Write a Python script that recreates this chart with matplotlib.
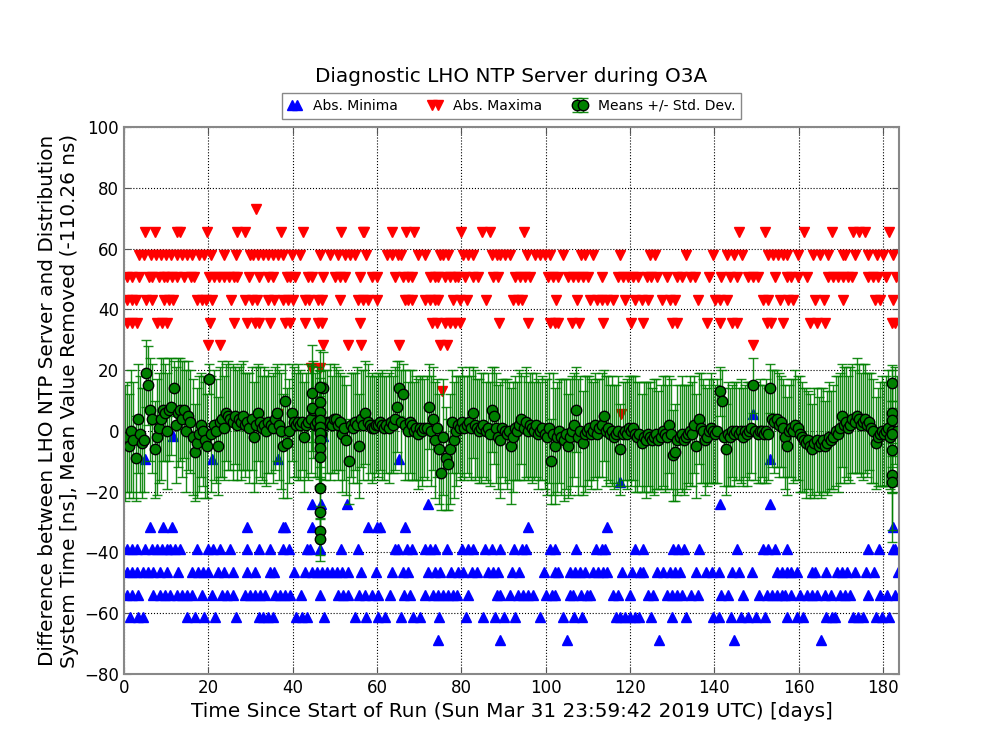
import numpy as np
import matplotlib
matplotlib.use("Agg")
from matplotlib import pyplot as plt

# quantised levels of the abs. maxima / minima rows [ns]
max_x_729 = [31.3]
max_x_654 = [5.0, 7.4, 12.5, 13.3, 19.8, 26.7, 28.7, 37.2, 42.5, 51.4, 56.6, 57.0, 63.6, 66.8, 68.8, 79.9,
             85.0, 86.8, 94.9, 145.9, 152.0, 161.2, 167.9, 173.0, 174.2, 175.7, 181.5]
max_x_580 = [3.6, 4.7, 6.3, 7.5, 8.7, 9.9, 11.1, 12.6, 13.8, 15.0, 16.2, 17.8, 19.0, 20.7, 23.7, 26.5, 30.0,
             30.7, 31.8, 33.0, 34.2, 35.4, 36.6, 37.6, 39.8, 41.7, 46.5, 48.8, 50.8, 52.4, 53.6, 54.8, 57.5,
             62.3, 63.5, 65.1, 65.8, 69.8, 71.4, 74.9, 75.7, 76.9, 80.5, 81.7, 82.8, 87.2, 88.4, 89.2, 90.4,
             91.5, 95.5, 97.5, 98.7, 99.8, 101.0, 104.2, 108.5, 109.3, 111.3, 117.6, 124.7, 125.9, 133.3,
             139.8, 142.9, 144.7, 146.5, 152.8, 154.0, 155.2, 156.4, 157.2, 159.8, 163.5, 165.1, 167.0,
             170.6, 171.0, 173.4, 176.5, 178.5, 180.1, 182.4]
max_x_505 = [0.8, 2.0, 3.6, 5.9, 6.7, 8.3, 9.5, 10.3, 11.5, 12.6, 14.2, 15.8, 16.6, 20.2, 21.3, 22.5, 23.7,
             24.9, 26.1, 26.9, 29.6, 32.1, 34.2, 35.4, 38.6, 39.4, 40.6, 43.7, 44.5, 47.3, 50.0, 51.2, 52.4,
             56.0, 58.7, 59.9, 64.3, 66.2, 67.4, 68.2, 72.6, 73.8, 74.5, 76.1, 77.3, 78.5, 79.3, 80.9, 82.8,
             84.0, 87.6, 88.8, 92.7, 93.9, 95.1, 96.3, 100.6, 101.8, 103.0, 105.4, 106.6, 107.7, 108.9,
             110.1, 113.3, 117.2, 118.4, 119.6, 120.8, 122.0, 124.0, 125.1, 126.3, 128.7, 131.1, 132.3,
             134.2, 135.4, 138.7, 141.7, 143.7, 145.3, 148.1, 149.2, 150.4, 154.4, 157.2, 158.3, 159.9,
             161.9, 167.0, 168.2, 169.4, 170.6, 171.8, 172.6, 176.5, 177.7, 178.9, 180.7, 183.0]
max_x_431 = [0.8, 2.0, 2.8, 5.1, 6.7, 9.5, 10.7, 11.7, 17.4, 18.6, 19.4, 20.9, 25.3, 28.7, 30.3, 31.5, 34.2,
             35.6, 37.8, 39.0, 40.0, 42.9, 43.9, 46.1, 46.9, 51.2, 55.6, 56.8, 57.9, 59.9, 66.6, 67.4, 68.4,
             71.4, 72.6, 73.8, 74.5, 78.1, 79.7, 81.3, 85.8, 92.3, 93.5, 94.3, 102.4, 107.4, 110.5, 112.1,
             113.3, 114.5, 116.0, 118.7, 121.3, 122.8, 124.3, 127.5, 129.5, 130.7, 136.2, 140.2, 141.3,
             142.9, 151.6, 152.8, 155.6, 157.5, 158.7, 163.9, 166.1, 170.6, 178.1, 179.3, 182.3]
max_x_356 = [0.8, 2.0, 3.2, 7.9, 9.1, 10.3, 20.5, 26.0, 29.1, 31.1, 31.9, 34.6, 38.2, 39.4, 42.9, 46.1, 46.9,
             56.0, 73.0, 74.2, 76.1, 77.3, 78.5, 79.7, 88.9, 95.9, 101.0, 102.2, 103.0, 106.2, 107.9, 113.5,
             120.2, 123.2, 129.9, 131.1, 138.2, 141.3, 144.1, 145.3, 152.4, 153.4, 156.4, 162.7, 164.3,
             166.2, 182.1, 182.9]
max_x_282 = [20.0, 22.8, 47.3, 53.2, 56.1, 65.2, 74.9, 76.5, 149.2]
max_x_207 = [44.3, 46.5]
max_x_132 = [75.3]
max_x_57 = [36.6, 117.8]

min_x_57 = [149.2]
min_x_m18 = [11.7, 47.3]
min_x_m92 = [5.0, 20.8, 36.6, 65.2, 153.2]
min_x_m167 = [117.6]
min_x_m241 = [44.5, 46.7, 53.0, 72.2, 141.3, 153.2]
min_x_m315 = [6.2, 9.3, 11.5, 29.2, 37.8, 38.3, 44.5, 57.8, 59.9, 60.7, 66.6, 95.9, 114.5, 182.3]
min_x_m390 = [0.6, 1.8, 3.0, 5.0, 6.6, 7.8, 8.9, 10.1, 10.9, 12.1, 13.3, 17.4, 20.0, 21.2, 22.8, 25.1, 29.2,
              32.1, 34.6, 37.8, 39.2, 43.3, 44.1, 46.5, 51.4, 55.6, 64.3, 65.1, 67.0, 68.2, 71.4, 72.6, 73.8,
              76.5, 80.2, 81.5, 82.8, 85.6, 87.3, 89.2, 92.6, 94.3, 95.3, 101.0, 102.2, 107.2, 111.9, 113.3,
              114.1, 121.2, 123.2, 130.3, 131.5, 132.7, 136.4, 145.3, 151.6, 152.8, 154.4, 157.3, 176.5,
              179.1, 182.3, 182.9]
min_x_m464 = [0.6, 1.8, 3.0, 4.6, 5.8, 6.9, 8.5, 10.1, 12.9, 16.1, 17.6, 18.8, 20.0, 22.4, 23.6, 25.9, 29.1,
              31.1, 34.6, 35.6, 40.2, 42.9, 44.5, 45.7, 46.9, 48.1, 49.3, 50.4, 51.6, 53.2, 56.1, 59.7, 63.6,
              66.2, 67.4, 72.2, 73.8, 74.9, 77.5, 79.3, 80.5, 82.5, 83.6, 86.4, 87.6, 88.8, 92.1, 93.7, 99.7,
              102.2, 103.0, 105.8, 107.0, 108.1, 109.3, 111.3, 112.5, 113.7, 114.5, 118.0, 120.4, 122.4,
              123.2, 126.3, 127.9, 129.5, 130.7, 131.9, 135.6, 138.0, 139.4, 141.0, 144.1, 145.9, 148.9,
              154.8, 156.0, 157.2, 158.3, 159.5, 163.1, 163.9, 166.4, 169.0, 170.2, 171.4, 173.4, 176.0,
              177.9, 183.6]
min_x_m539 = [0.6, 1.8, 3.4, 6.9, 8.5, 9.7, 10.9, 12.5, 13.7, 14.9, 16.1, 18.4, 20.8, 23.2, 24.4, 25.9, 28.7,
              29.9, 31.1, 32.3, 33.4, 35.8, 37.0, 38.2, 39.4, 41.9, 46.6, 50.8, 52.0, 53.2, 55.8, 57.2, 58.7,
              60.3, 63.1, 66.5, 67.8, 71.5, 73.4, 74.5, 75.7, 76.9, 78.1, 78.9, 81.7, 88.4, 89.2, 91.5, 93.5,
              94.7, 95.9, 97.1, 100.2, 101.4, 102.2, 105.8, 106.6, 108.4, 109.7, 110.5, 116.0, 117.1, 120.0,
              124.3, 125.5, 128.7, 129.9, 131.1, 132.3, 134.5, 136.1, 141.7, 143.3, 146.9, 150.6, 152.4,
              153.6, 154.8, 156.0, 156.8, 158.3, 160.3, 161.9, 163.1, 164.3, 166.2, 167.7, 169.8, 171.0,
              172.2, 176.5, 179.3, 180.9, 182.9]
min_x_m613 = [1.4, 3.4, 4.6, 14.9, 16.8, 19.0, 21.7, 26.6, 31.9, 33.0, 34.2, 35.3, 40.9, 42.1, 43.3, 47.4,
              54.8, 57.5, 60.3, 61.9, 65.7, 68.6, 70.2, 74.8, 81.1, 85.1, 88.0, 90.2, 92.7, 98.7, 104.2, 106.7,
              108.7, 116.6, 117.6, 118.8, 120.0, 121.2, 122.1, 125.1, 130.0, 133.4, 139.8, 141.0, 143.9,
              146.3, 147.9, 149.8, 152.0, 157.2, 159.7, 161.1, 166.6, 167.8, 168.6, 172.8, 174.0, 175.3,
              178.3, 179.7, 181.4]
min_x_m688 = [74.5, 89.2, 105.1, 126.9, 144.7, 165.3]

# means, one per half day starting at 0.25 d
mean_y = [
    -4, -2, -5, 0, -3, -9, 4, -1, -4, -3, 19, 15, 7, 4, -6, -2, 1, 4, 7, 6,
    0, 7, 8, 14, 2, 6, 7, 4, 7, 0, 5, 3, -2, -7, -4, -1, 2, 0, -3, -5,
    17, -1, 2, 0, -5, 3, 4, 1, 6, 5, 4, 3, 5, 2, 4, 3, 5, 2, 3, 1,
    4, -2, 2, 6, 3, 1, 2, 0, 3, 2, 1, 4, 6, 2, 0, -5, 10, -4, 0, 6,
    3, 2, 3, 2, 3, -2, 2, 3, 4, 7, 2, 3, 1, -1, 14, 2, 3, 3, 2, 4,
    4, 2, 3, -1, 1, -3, -10, 2, 1, 3, 2, -5, 4, 2, 6, 3, 2, 1, 1, 2,
    2, 3, 2, 1, 2, 1, 3, 2, 4, 8, 14, 3, 12, 2, 0, 3, 2, 0, 1, -1,
    1, 0, 1, 1, 8, 0, 4, -3, 1, -6, -14, -2, -9, -11, -6, 3, -3, 0, 2, 1,
    3, 1, 2, 3, 1, 6, 2, 1, 0, 1, 2, 0, 1, -1, 7, 5, 1, -2, -3, 1,
    0, -1, 0, -5, -2, 1, 0, 2, 4, 1, 3, 0, 2, 1, 0, 2, -1, 0, 1, -1,
    -2, 1, -10, -1, -5, -2, 0, -2, -3, -1, -5, -2, 0, 2, 7, -2, 0, -4, -1, 0,
    1, -1, 0, 2, -1, 1, 2, 5, 0, 1, -1, 0, -2, -1, 0, -6, -1, 0, -1, 1,
    0, 1, -1, -2, -1, -4, -2, -3, -1, -2, -3, -2, -1, -3, -2, 0, -1, -2, 2, -1,
    -8, -7, -3, -2, -1, -3, -2, -1, 0, -1, 2, -5, 4, 1, 0, -3, -2, 0, 1, 0,
    -1, 0, 13, 10, -2, -6, -1, -2, 0, -1, 0, -1, 0, -2, 0, -1, 0, 1, 15, 0,
    -1, 0, 0, -1, 0, -1, 14, 4, 3, 4, 2, 3, 1, -2, -5, 0, 1, 0, 2, 1,
    -1, -2, -3, -4, -3, -5, -6, -4, -3, -5, -4, -3, -5, -4, -2, -3, -2, 0, -1, 1,
    5, 2, 3, 1, 2, 4, 3, 5, 4, 2, 3, 4, 2, 3, 1, 0, -4, -2, -1, 0,
    -1, 0, 1, -2, 0, 5, 0]
mean_err = [
    19, 18, 17, 20, 19, 14, 18, 19, 18, 17, 11, 13, 17, 18, 16, 19, 18, 20, 17, 16,
    19, 17, 16, 9, 19, 18, 17, 19, 16, 20, 18, 17, 19, 16, 18, 19, 17, 18, 19, 17,
    5, 19, 18, 17, 16, 18, 19, 17, 16, 18, 17, 19, 16, 18, 17, 19, 18, 17, 16, 18,
    17, 18, 19, 16, 18, 17, 19, 18, 17, 16, 18, 17, 16, 18, 19, 17, 12, 18, 17, 16,
    18, 17, 19, 18, 16, 18, 17, 19, 18, 16, 17, 18, 19, 17, 12, 18, 17, 19, 16, 18,
    17, 18, 16, 19, 17, 18, 14, 17, 18, 16, 19, 17, 16, 18, 17, 19, 16, 18, 17, 16,
    17, 16, 18, 17, 16, 18, 17, 16, 17, 15, 9, 17, 10, 18, 16, 17, 18, 16, 17, 18,
    17, 18, 16, 17, 14, 18, 17, 19, 16, 18, 12, 19, 17, 15, 18, 17, 19, 18, 16, 17,
    18, 17, 16, 18, 17, 15, 18, 16, 17, 18, 17, 16, 18, 17, 14, 16, 18, 17, 19, 16,
    17, 18, 16, 19, 18, 17, 16, 18, 15, 17, 18, 16, 17, 18, 16, 17, 18, 16, 17, 18,
    19, 18, 14, 20, 19, 18, 17, 19, 20, 18, 17, 19, 18, 17, 14, 19, 18, 17, 19, 18,
    17, 18, 16, 17, 18, 16, 17, 15, 18, 17, 16, 18, 17, 16, 18, 15, 17, 16, 18, 17,
    18, 17, 19, 18, 17, 16, 18, 19, 17, 18, 17, 19, 18, 16, 17, 18, 19, 17, 16, 18,
    15, 16, 18, 17, 19, 18, 17, 16, 18, 17, 16, 17, 15, 18, 17, 18, 16, 17, 18, 17,
    16, 17, 8, 10, 16, 15, 17, 16, 15, 17, 16, 15, 17, 16, 15, 17, 16, 15, 9, 16,
    16, 17, 15, 16, 17, 15, 8, 16, 17, 16, 17, 15, 16, 17, 16, 15, 16, 17, 18, 17,
    19, 18, 17, 18, 16, 17, 15, 18, 17, 16, 18, 17, 15, 17, 18, 16, 17, 18, 19, 18,
    17, 19, 18, 17, 19, 18, 17, 19, 18, 17, 19, 18, 17, 16, 18, 17, 15, 16, 17, 18,
    17, 18, 19, 17, 20, 16, 18]

# bursts of many short segments at the same time
burst_x = [44.5, 44.5, 46.5, 46.5, 46.5, 46.5, 46.5, 46.5, 46.5, 46.5, 46.5, 46.5, 46.5, 46.5, 46.5,
           182.2, 182.2, 182.2, 182.2, 182.2, 182.2, 182.2]
burst_y = [12.4, 7.4, 14.5, 9.6, 6.3, 3.6, 1.4, -0.8, -3.0, -5.7, -8.5, -18.9, -26.8, -32.8, -35.7,
           15.8, 6.0, 3.6, -1.0, -6.3, -14.5, -16.7]
burst_err = [16, 14, 12, 10, 11, 12, 10, 11, 12, 10, 11, 10, 9, 8, 7,
             6, 10, 12, 11, 14, 18, 20]

max_rows = [(72.9, max_x_729), (65.4, max_x_654), (58.0, max_x_580), (50.5, max_x_505),
            (43.1, max_x_431), (35.6, max_x_356), (28.2, max_x_282), (20.7, max_x_207),
            (13.2, max_x_132), (5.7, max_x_57)]
min_rows = [(5.7, min_x_57), (-1.8, min_x_m18), (-9.2, min_x_m92), (-16.7, min_x_m167),
            (-24.1, min_x_m241), (-31.5, min_x_m315), (-39.0, min_x_m390), (-46.4, min_x_m464),
            (-53.9, min_x_m539), (-61.3, min_x_m613), (-68.8, min_x_m688)]

maxX = np.concatenate([xs for lv, xs in max_rows])
maxY = np.concatenate([[lv] * len(xs) for lv, xs in max_rows])
minX = np.concatenate([xs for lv, xs in min_rows])
minY = np.concatenate([[lv] * len(xs) for lv, xs in min_rows])

meanX = np.concatenate([0.25 + 0.5 * np.arange(len(mean_y)), burst_x])
meanY = np.concatenate([mean_y, burst_y])
meanE = np.concatenate([mean_err, burst_err])

fig = plt.figure(figsize=(10, 7.5), dpi=100, facecolor='white')
ax = fig.add_axes([0.124, 0.1013, 0.775, 0.7293])

ax.plot(minX, minY, '^', color='blue', mec='blue', ms=6.5, label='Abs. Minima')
ax.plot(maxX, maxY, 'v', color='red', mec='red', ms=6.5, label='Abs. Maxima')
eb = ax.errorbar(meanX, meanY, yerr=meanE, fmt='o', color='green', mfc='green', mec='black',
                 ms=7.5, ecolor='green', elinewidth=1.0, capsize=3.5, capthick=1.0,
                 label='Means +/- Std. Dev.')
for c in eb[1]:
    c.set_alpha(0.9)
for c in eb[2]:
    c.set_alpha(0.9)

ax.set_xlim(0, 183.8)
ax.set_ylim(-80, 100)
ax.set_xticks(np.arange(0, 181, 20))
ax.set_yticks(np.arange(-80, 101, 20))
ax.grid(True, color='black', linestyle=':', linewidth=0.8)
ax.tick_params(direction='in', top=True, right=True, labelsize=12, length=5, color='#555555')
for s in ax.spines.values():
    s.set_color('#888888')
    s.set_linewidth(1.5)

ax.set_xlabel('Time Since Start of Run (Sun Mar 31 23:59:42 2019 UTC) [days]', fontsize=14.4)
ax.set_ylabel('Difference between LHO NTP Server and Distribution\n'
              'System Time [ns], Mean Value Removed (-110.26 ns)', fontsize=14.4)
fig.text(0.5115, 0.898, 'Diagnostic LHO NTP Server during O3A', ha='center', va='center', fontsize=14.4)

leg = ax.legend(loc='lower center', bbox_to_anchor=(0.5, 1.008), ncol=3, fontsize=10, numpoints=2,
                fancybox=False, framealpha=1, borderaxespad=0.3, columnspacing=2.2,
                handlelength=1.0, handletextpad=0.8)
leg.get_frame().set_edgecolor('#888888')

fig.savefig('out.png', dpi=100, facecolor='white')
